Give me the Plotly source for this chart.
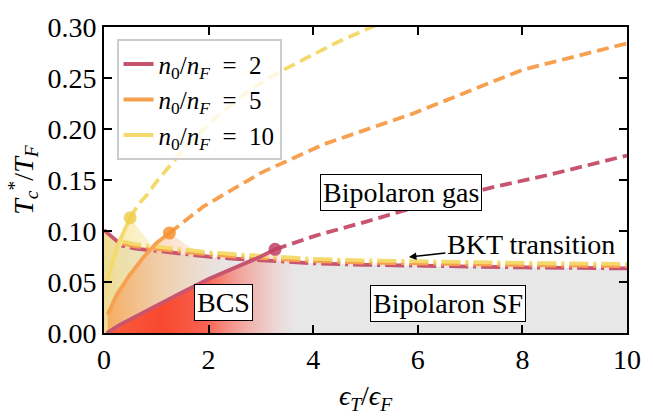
import numpy as np
import plotly.graph_objects as go

# ---------------- data ----------------
# BCS branch (solid) and continuation (dashed) of T_c*/T_F for each n0/nF
x_n2_solid = [0.05, 0.3, 0.6, 1.0, 1.5, 2.0, 2.5, 3.0, 3.27]
y_n2_solid = [0.0, 0.008, 0.016, 0.027, 0.040, 0.053, 0.064, 0.075, 0.082]
x_n2_dash = [3.27, 4.05, 5.0, 5.8, 6.6, 7.4, 8.5, 10.0]
y_n2_dash = [0.082, 0.0955, 0.109, 0.121, 0.132, 0.1425, 0.155, 0.174]

x_n5_solid = [0.07, 0.25, 0.48, 0.75, 1.0, 1.25]
y_n5_solid = [0.018, 0.038, 0.056, 0.074, 0.088, 0.098]
x_n5_dash = [1.25, 1.9, 3.0, 4.2, 5.9, 8.0, 10.0]
y_n5_dash = [0.098, 0.124, 0.157, 0.185, 0.215, 0.258, 0.284]

x_n10_solid = [0.07, 0.25, 0.5]
y_n10_solid = [0.052, 0.085, 0.113]
x_n10_dash = [0.5, 0.67, 0.8, 1.0, 1.6, 2.2, 2.8, 3.4, 4.0, 4.5, 5.05, 5.4]
y_n10_dash = [0.113, 0.127, 0.134, 0.148, 0.185, 0.214, 0.239, 0.257, 0.273, 0.286, 0.2985, 0.306]

# BKT transition lines
x_bkt_n2 = [0, 0.15, 0.35, 0.6, 1.0, 1.5, 2.0, 2.5, 3.0, 4.0, 5.0, 6.0, 7.0, 8.0, 9.0, 10.0]
y_bkt_n2 = [0.101, 0.094, 0.0855, 0.0828, 0.0803, 0.0773, 0.0748, 0.0728, 0.0713,
            0.0683, 0.0668, 0.0658, 0.065, 0.0643, 0.0638, 0.0633]
x_bkt_n5 = [0.35, 0.6, 1.0, 1.5, 2.0, 2.5, 3.0, 4.0, 5.0, 6.0, 7.0, 8.0, 9.0, 10.0]
y_bkt_n5 = [0.0877, 0.085, 0.0825, 0.0795, 0.077, 0.075, 0.0735, 0.0705, 0.069,
            0.068, 0.0672, 0.0665, 0.066, 0.0655]
x_bkt_n10 = [0.35, 0.6, 1.0, 1.5, 2.0, 2.5, 3.0, 4.0, 5.0, 6.0, 7.0, 8.0, 9.0, 10.0]
y_bkt_n10 = [0.0899, 0.0872, 0.0847, 0.0817, 0.0792, 0.0772, 0.0757, 0.0727, 0.0712,
             0.0702, 0.0694, 0.0687, 0.0682, 0.0677]

legend_labels = ["<i>n</i><sub>0</sub>/<i>n<sub>F</sub></i>&nbsp;&nbsp;=&nbsp;&nbsp;2",
                 "<i>n</i><sub>0</sub>/<i>n<sub>F</sub></i>&nbsp;&nbsp;=&nbsp;&nbsp;5",
                 "<i>n</i><sub>0</sub>/<i>n<sub>F</sub></i>&nbsp;&nbsp;=&nbsp;&nbsp;10"]
x_ticks = [0, 2, 4, 6, 8, 10]
y_ticks = [0.0, 0.05, 0.10, 0.15, 0.20, 0.25, 0.30]

# ---------------- style ----------------
FONT = "Liberation Serif, DejaVu Serif, serif"
FS = 28
c_n2, c_n5, c_n10 = "#c8556f", "#f7a04f", "#f4da6c"
m_n2, m_n5, m_n10 = "#c23f63", "#f59332", "#f0cc4c"
LW = 3.8
DASH = "12px,6px"
DASHDOT = "19px,5px,3px,5px"

fig = go.Figure()

# gray region under BKT line
fig.add_trace(go.Scatter(x=x_bkt_n2, y=y_bkt_n2, mode="lines", line=dict(width=0),
                         fill="tozeroy", fillcolor="#e7e7e7", showlegend=False,
                         hoverinfo="skip"))


def region(xs, ys, bkt_x, bkt_y, use_bkt_left, tail_from, tail_to):
    """Polygon: upper boundary from solid curve (or BKT if higher), a tail
    from the marker down to the BKT line, then back along y=0."""
    xs = np.asarray(xs); ys = np.asarray(ys)
    bx = np.asarray(bkt_x); by = np.asarray(bkt_y)
    if use_bkt_left:
        grid = np.unique(np.concatenate([bx[bx <= xs[-1]], xs]))
        up = np.maximum(np.interp(grid, xs, ys), np.interp(grid, bx, by))
    else:
        grid = xs; up = ys
    sel = (bx > tail_from) & (bx <= tail_to)
    tx = np.concatenate([[tail_from], bx[sel]])
    ty = np.interp(tx, bx, by)
    px = np.concatenate([[grid[0]], grid, tx, [tx[-1]]])
    py = np.concatenate([[0], up, ty, [0]])
    return px, py


# yellow (n=10) region
px, py = region(x_n10_solid, y_n10_solid, x_bkt_n2, y_bkt_n2, True, 1.0, 3.0)
fig.add_trace(go.Scatter(
    x=px, y=py, mode="lines", line=dict(width=0), fill="toself",
    fillgradient=dict(type="horizontal", start=0, stop=2.0,
                      colorscale=[[0, "rgba(244,212,90,0.62)"], [0.45, "rgba(244,222,130,0.3)"],
                                  [1, "rgba(244,225,150,0)"]]),
    showlegend=False, hoverinfo="skip"))

# orange (n=5) region
px, py = region(x_n5_solid, y_n5_solid, x_bkt_n2, y_bkt_n2, False, 1.9, 3.0)
fig.add_trace(go.Scatter(
    x=px, y=py, mode="lines", line=dict(width=0), fill="toself",
    fillgradient=dict(type="horizontal", start=0, stop=2.5,
                      colorscale=[[0, "rgba(248,150,75,0.7)"], [0.4, "rgba(248,170,115,0.42)"],
                                  [1, "rgba(247,190,160,0)"]]),
    showlegend=False, hoverinfo="skip"))

# red (n=2) region
px, py = region(x_n2_solid, y_n2_solid, x_bkt_n2, y_bkt_n2, False, 3.6, 3.6)
fig.add_trace(go.Scatter(
    x=px, y=py, mode="lines", line=dict(width=0), fill="toself",
    fillgradient=dict(type="horizontal", start=0, stop=3.7,
                      colorscale=[[0, "rgba(248,90,58,0.97)"], [0.3, "rgba(249,72,48,1)"],
                                  [0.52, "rgba(249,88,70,0.92)"], [0.78, "rgba(248,150,140,0.5)"],
                                  [1, "rgba(245,210,210,0)"]]),
    showlegend=False, hoverinfo="skip"))

# BKT lines
for bx, by, c in [(x_bkt_n2, y_bkt_n2, c_n2), (x_bkt_n5, y_bkt_n5, c_n5),
                  (x_bkt_n10, y_bkt_n10, c_n10)]:
    fig.add_trace(go.Scatter(x=bx, y=by, mode="lines",
                             line=dict(color=c, width=LW, dash=DASHDOT),
                             showlegend=False, hoverinfo="skip"))

# Tc curves
for xs, ys, xd, yd, c, m, lab in [
        (x_n2_solid, y_n2_solid, x_n2_dash, y_n2_dash, c_n2, m_n2, legend_labels[0]),
        (x_n5_solid, y_n5_solid, x_n5_dash, y_n5_dash, c_n5, m_n5, legend_labels[1]),
        (x_n10_solid, y_n10_solid, x_n10_dash, y_n10_dash, c_n10, m_n10, legend_labels[2])]:
    fig.add_trace(go.Scatter(x=xd, y=yd, mode="lines",
                             line=dict(color=c, width=LW, dash=DASH),
                             showlegend=False, hoverinfo="skip"))
    fig.add_trace(go.Scatter(x=xs, y=ys, mode="lines", name=lab,
                             line=dict(color=c, width=LW)))
    fig.add_trace(go.Scatter(x=[xs[-1]], y=[ys[-1]], mode="markers",
                             marker=dict(color=m, size=13, opacity=0.85),
                             showlegend=False, hoverinfo="skip"))

box = dict(bgcolor="white", bordercolor="black", borderwidth=1, borderpad=2,
           font=dict(family=FONT, size=FS, color="black"), showarrow=False)
fig.add_annotation(x=2.29, y=0.0295, text="BCS", **box)
fig.add_annotation(x=6.58, y=0.0285, text="Bipolaron SF", **box)
fig.add_annotation(x=5.67, y=0.138, text="Bipolaron gas", **box)
fig.add_annotation(x=5.83, y=0.0745, text="BKT transition", showarrow=True,
                   ax=122, ay=-13, arrowhead=2, arrowsize=1, arrowwidth=1.5,
                   arrowcolor="black", font=dict(family=FONT, size=FS, color="black"))

axis_common = dict(showline=True, linecolor="black", linewidth=2, mirror="ticks",
                   ticks="inside", ticklen=8, tickwidth=1.5, tickcolor="black",
                   showgrid=False, zeroline=False,
                   tickfont=dict(family=FONT, size=FS, color="black"))
fig.update_xaxes(range=[0, 10], tickvals=x_ticks, ticktext=[str(v) for v in x_ticks],
                 title=dict(text="<i>ϵ<sub>T</sub></i>/<i>ϵ<sub>F</sub></i>",
                            font=dict(family=FONT, size=FS, color="black"), standoff=12),
                 **axis_common)
fig.update_yaxes(range=[0, 0.30], tickvals=y_ticks, ticktext=[f"{v:.2f}" for v in y_ticks],
                 title=dict(text="<i>T<sub>c</sub></i><sup>*</sup>/<i>T<sub>F</sub></i>",
                            font=dict(family=FONT, size=FS, color="black"), standoff=6),
                 **axis_common)

fig.update_layout(
    width=653, height=418, plot_bgcolor="white", paper_bgcolor="white",
    margin=dict(l=104, r=15, t=17, b=71),
    legend=dict(x=0.024, y=0.96, xanchor="left", yanchor="top",
                bgcolor="rgba(255,255,255,0.8)", bordercolor="#cccccc", borderwidth=2,
                font=dict(family=FONT, size=25, color="black"), tracegroupgap=0,
                itemwidth=30),
)

fig.write_html("out.html")
